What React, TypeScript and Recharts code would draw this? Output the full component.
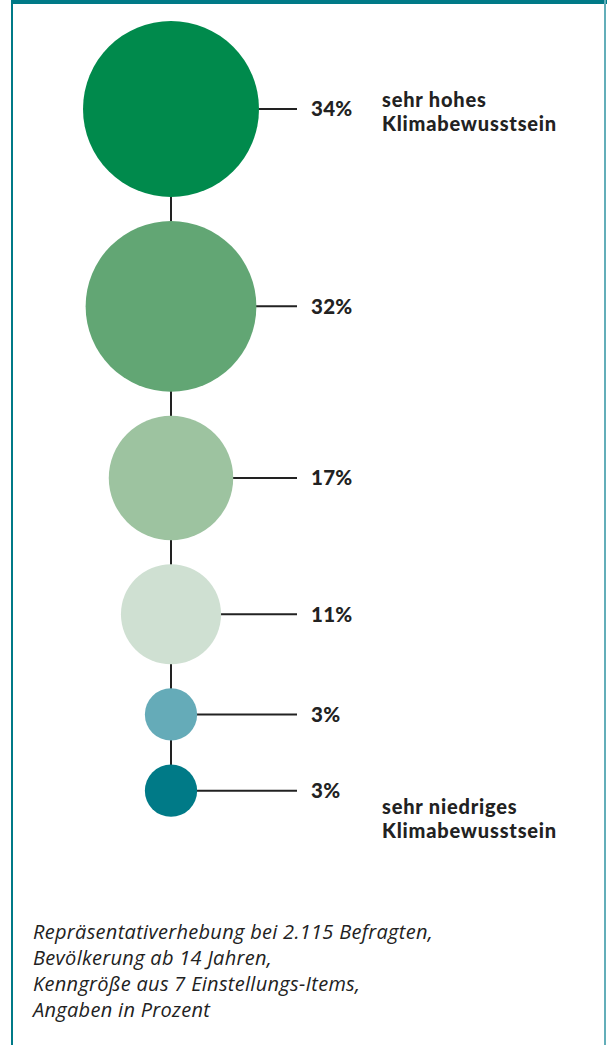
import React from 'react';
import { ScatterChart, Scatter, XAxis, YAxis, ZAxis } from 'recharts';

// ---- data ----
const categories = ['sehr hoch', 'hoch', 'eher hoch', 'eher niedrig', 'niedrig', 'sehr niedrig'];
const shares = [34, 32, 17, 11, 3, 3];
const shareLabels = ['34%', '32%', '17%', '11%', '3%', '3%'];
const topNote = ['sehr hohes', 'Klimabewusstsein'];
const bottomNote = ['sehr niedriges', 'Klimabewusstsein'];
const footnoteLines = [
  'Repräsentativerhebung bei 2.115 Befragten,',
  'Bevölkerung ab 14 Jahren,',
  'Kenngröße aus 7 Einstellungs-Items,',
  'Angaben in Prozent',
];

// ---- style ----
const palette = ['#008A4C', '#62A674', '#9DC3A0', '#CFE0D2', '#65ABB8', '#007A87'];
const TEAL = '#007A87';
const INK = '#222222';
const FONT = '"Open Sans", "DejaVu Sans", sans-serif';
const BOLD_FONT = 'Lato, "Open Sans", sans-serif';

// bubble area is proportional to the share
const R_MAX = 88;
const AREA_MAX = Math.PI * R_MAX * R_MAX;
const SHARE_MAX = Math.max(...shares);
const radiusOf = (v: number) => Math.sqrt((AREA_MAX * (v / SHARE_MAX)) / Math.PI);
const GAP = 24;

// stacked positions (bubbles placed one under another, derived from their sizes)
const stackPos: number[] = [];
{
  let acc = 0;
  shares.forEach((v, i) => {
    const r = radiusOf(v);
    if (i === 0) acc = r;
    else acc += radiusOf(shares[i - 1]) + GAP + r;
    stackPos.push(acc);
  });
}
const STACK_TOTAL = stackPos[stackPos.length - 1] + radiusOf(shares[shares.length - 1]);

const data = categories.map((c, i) => ({
  name: c,
  x: 0.5,
  y: stackPos[i],
  z: shares[i],
  label: shareLabels[i],
  idx: i,
}));

const W = 607;
const TOP = 21;
const BOTTOM = 40;
const H = TOP + STACK_TOTAL + BOTTOM;
const PLOT_W = 342;
const CX = PLOT_W / 2;
const LEAD = 126;
const LABEL_DX = 140;
const NOTE_DX = 211;
const NOTE_LH = 24;

const BubbleShape = (props: any) => {
  const { cx, cy, size, payload } = props;
  const r = Math.sqrt(Math.max(size, 0) / Math.PI);
  const i = payload.idx;
  return (
    <g>
      <line x1={cx} y1={cy} x2={cx + LEAD} y2={cy} stroke={INK} strokeWidth={2} />
      <circle cx={cx} cy={cy} r={r} fill={palette[i]} />
      <text
        x={cx + LABEL_DX}
        y={cy + 7.5}
        fontFamily={BOLD_FONT}
        fontWeight={900}
        fontSize={20.5}
        letterSpacing={0.3}
        fill={INK}
      >
        {payload.label}
      </text>
    </g>
  );
};

const noteStyle: React.CSSProperties = {
  position: 'absolute',
  left: CX + NOTE_DX,
  fontFamily: BOLD_FONT,
  fontWeight: 900,
  fontSize: 20,
  letterSpacing: 0.8,
  lineHeight: `${NOTE_LH}px`,
  color: INK,
  whiteSpace: 'nowrap',
};

export default function App() {
  const firstCy = TOP + stackPos[0];
  const lastCy = TOP + stackPos[stackPos.length - 1];
  return (
    <div
      style={{
        position: 'absolute',
        left: 0,
        top: 0,
        width: W,
        height: 1045,
        background: '#fff',
        overflow: 'hidden',
      }}
    >
      <div style={{ position: 'absolute', left: 11, top: 0, width: W - 11, height: 4, background: TEAL }} />
      <div style={{ position: 'absolute', left: 11, top: 0, width: 2, height: 1045, background: TEAL }} />
      <div style={{ position: 'absolute', left: 604, top: 0, width: 2, height: 1045, background: '#63AEB9' }} />
      <div style={{ position: 'absolute', left: 0, top: 0 }}>
        <ScatterChart
          width={W}
          height={H}
          margin={{ top: TOP, right: W - PLOT_W, bottom: BOTTOM, left: 0 }}
        >
          <XAxis type="number" dataKey="x" domain={[0, 1]} hide height={0} />
          <YAxis type="number" dataKey="y" domain={[0, STACK_TOTAL]} reversed hide width={0} />
          <ZAxis type="number" dataKey="z" domain={[0, SHARE_MAX]} range={[0, AREA_MAX]} />
          <Scatter
            data={data}
            isAnimationActive={false}
            line={{ stroke: INK, strokeWidth: 2 }}
            lineType="joint"
            shape={BubbleShape}
          />
        </ScatterChart>
      </div>
      <div style={{ ...noteStyle, top: firstCy - 22.5 }}>
        {topNote.map((t, i) => (
          <div key={i}>{t}</div>
        ))}
      </div>
      <div style={{ ...noteStyle, top: lastCy + 3 }}>
        {bottomNote.map((t, i) => (
          <div key={i}>{t}</div>
        ))}
      </div>
      <div
        style={{
          position: 'absolute',
          left: 33,
          top: 919,
          fontFamily: FONT,
          fontStyle: 'italic',
          fontSize: 20,
          letterSpacing: 0.3,
          lineHeight: '26px',
          color: INK,
          whiteSpace: 'nowrap',
        }}
      >
        {footnoteLines.map((l, i) => (
          <div key={i}>{l}</div>
        ))}
      </div>
    </div>
  );
}
